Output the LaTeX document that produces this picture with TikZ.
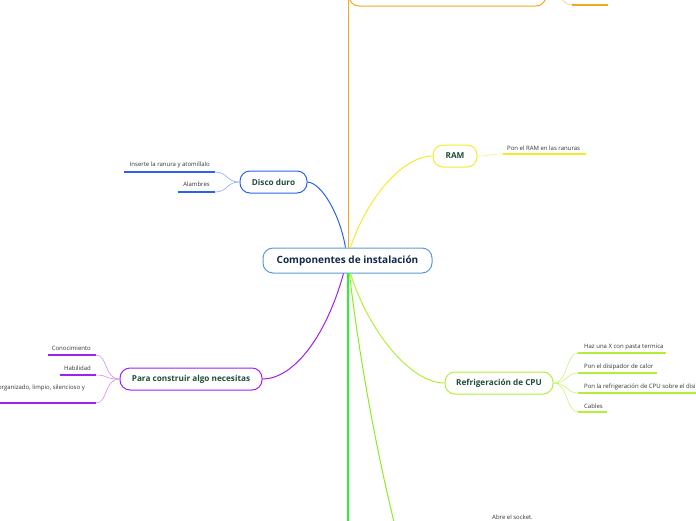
\documentclass[tikz,border=0pt]{standalone}
\usepackage{fontspec}
\setmainfont{Open Sans}
\definecolor{cblue}{HTML}{5B9BD5}
\definecolor{navy}{HTML}{13294B}
\definecolor{dgreen}{HTML}{1D4D3B}
\definecolor{dblue}{HTML}{2A62F0}
\definecolor{yel}{HTML}{F2EC2E}
\definecolor{purp}{HTML}{A020F0}
\definecolor{lime}{HTML}{B2EE3A}
\definecolor{orng}{HTML}{F5A623}
\definecolor{grn}{HTML}{30EE30}
\definecolor{lgrn}{HTML}{88EE22}
\definecolor{txt}{HTML}{333333}
\tikzset{
  topic/.style={draw, line width=1pt, fill=white, rounded corners=10pt, inner sep=0pt,
    font=\fontsize{8.2}{9}\selectfont\bfseries, text=dgreen},
  sub/.style={inner sep=0pt, font=\fontsize{6}{7}\selectfont, text=txt},
  uline/.style={line width=1.5pt},
  thin/.style={line width=0.6pt},
  main/.style={line width=1pt},
}
\begin{document}
\begin{tikzpicture}[x=1pt,y=-1pt]
\useasboundingbox (0,0) rectangle (696,520);
\clip (0,0) rectangle (696,520);
% central
\node[draw=cblue, line width=1pt, fill=white, rounded corners=10pt, minimum width=169pt, minimum height=25pt,
  font=\fontsize{10}{11}\selectfont\bfseries, text=navy] (c) at (347.5,260.5) {Componentes de instalación};
\coordinate (cn1) at (348,248);
\coordinate (cs1) at (348,273);
% orange top branch
\node[draw=orng, line width=1pt, fill=white, rounded corners=10pt, minimum width=197pt, minimum height=36pt] (top) at (447.5,-12) {};
\coordinate (otop) at (348,-5);
\coordinate (o1a) at (572,5); \coordinate (o1b) at (608,5);
% blue
\node[topic, draw=dblue, minimum width=67pt, minimum height=22pt] (dd) at (273.5,182) {Disco duro};
% yellow
\node[topic, draw=yel, minimum width=44pt, minimum height=22pt] (ram) at (455,156) {RAM};
% purple
\node[topic, draw=purp, minimum width=142pt, minimum height=22pt] (pc) at (191,379) {Para construir algo necesitas};
% lime
\node[topic, draw=lime, minimum width=108pt, minimum height=22pt] (rf) at (499,383) {Refrigeración de CPU};
\coordinate (gb) at (348,530);
\coordinate (lgb) at (396,530);

% main connectors
\draw[main, draw=orng] (cn1) -- (otop);
\draw[main, draw=dblue] ([xshift=-2pt]c.north) .. controls (340,215) and (322,183) .. (dd.east);
\draw[main, draw=yel] ([xshift=3pt]c.north) .. controls (366,200) and (402,156) .. (ram.west);
\draw[main, draw=purp] ([xshift=-4pt]c.south) .. controls (325,340) and (292,379) .. (pc.east);
\draw[main, draw=lime] ([xshift=3pt]c.south) .. controls (368,330) and (410,383) .. (rf.west);
\draw[line width=1.6pt, draw=grn] (cs1) -- (gb);
\draw[main, draw=lgrn] ([xshift=2pt]c.south) .. controls (358,350) and (376,450) .. (lgb);

% orange sub
\draw[thin, draw=orng!60] (top.east) .. controls (560,-12) and (560,5) .. (o1a);
\draw[uline, draw=orng] (o1a) -- (o1b);

% disco duro subs
\coordinate (d1a) at (124,172); \coordinate (d1b) at (215,172);
\coordinate (d2a) at (178,192); \coordinate (d2b) at (215,192);
\draw[uline, draw=dblue] (d1a) -- (d1b);
\draw[uline, draw=dblue] (d2a) -- (d2b);
\node[sub, anchor=base east] (d1) at (210,166) {Inserte la ranura y atomillalo};
\node[sub, anchor=base east] (d2) at (210,186) {Alambres};
\draw[thin, draw=dblue!55] (dd.west) .. controls (226,182) and (228,172) .. (d1b);
\draw[thin, draw=dblue!55] (dd.west) .. controls (226,182) and (228,192) .. (d2b);

% RAM sub
\coordinate (r1a) at (503,154); \coordinate (r1b) at (586,154);
\draw[uline, draw=yel] (r1a) -- (r1b);
\node[sub, anchor=base west] (r1) at (507,150) {Pon el RAM en las ranuras};
\draw[thin, draw=yel!60] (ram.east) .. controls (490,156) and (490,154) .. (r1a);

% purple subs
\coordinate (p1a) at (48,355); \coordinate (p1b) at (96,355);
\coordinate (p2a) at (60,375); \coordinate (p2b) at (96,375);
\coordinate (p3a) at (-5,403); \coordinate (p3b) at (96,403);
\draw[uline, draw=purp] (p1a) -- (p1b);
\draw[uline, draw=purp] (p2a) -- (p2b);
\draw[uline, draw=purp] (p3a) -- (p3b);
\node[sub, anchor=base east] (p1) at (91,350) {Conocimiento};
\node[sub, anchor=base east] (p2) at (91,370) {Habilidad};
\node[sub, anchor=base east] (p3) at (85,389) {organizado, limpio, silencioso y};
\draw[thin, draw=purp!50] (pc.west) .. controls (104,379) and (108,355) .. (p1b);
\draw[thin, draw=purp!50] (pc.west) .. controls (104,379) and (108,375) .. (p2b);
\draw[thin, draw=purp!50] (pc.west) .. controls (104,379) and (108,403) .. (p3b);

% refrigeracion subs
\coordinate (f1a) at (578,353); \coordinate (f1b) at (666,353);
\coordinate (f2a) at (578,373); \coordinate (f2b) at (657,373);
\coordinate (f3a) at (578,393); \coordinate (f3b) at (700,393);
\coordinate (f4a) at (578,412); \coordinate (f4b) at (607,412);
\draw[uline, draw=lime] (f1a) -- (f1b);
\draw[uline, draw=lime] (f2a) -- (f2b);
\draw[uline, draw=lime] (f3a) -- (f3b);
\draw[uline, draw=lime] (f4a) -- (f4b);
\node[sub, anchor=base west] (f1) at (584,348) {Haz una X con pasta termica};
\node[sub, anchor=base west] (f2) at (584,368) {Pon el disipador de calor};
\node[sub, anchor=base west] (f3) at (584,388) {Pon la refrigeración de CPU sobre el disipador};
\node[sub, anchor=base west] (f4) at (584,408) {Cables};
\draw[thin, draw=lime!70] (rf.east) .. controls (568,383) and (566,353) .. (f1a);
\draw[thin, draw=lime!70] (rf.east) .. controls (568,383) and (566,373) .. (f2a);
\draw[thin, draw=lime!70] (rf.east) .. controls (568,383) and (566,393) .. (f3a);
\draw[thin, draw=lime!70] (rf.east) .. controls (568,383) and (566,412) .. (f4a);

% bottom text
\node[sub, anchor=base west] (ab) at (492,519) {Abre el socket.};
\end{tikzpicture}
\end{document}
